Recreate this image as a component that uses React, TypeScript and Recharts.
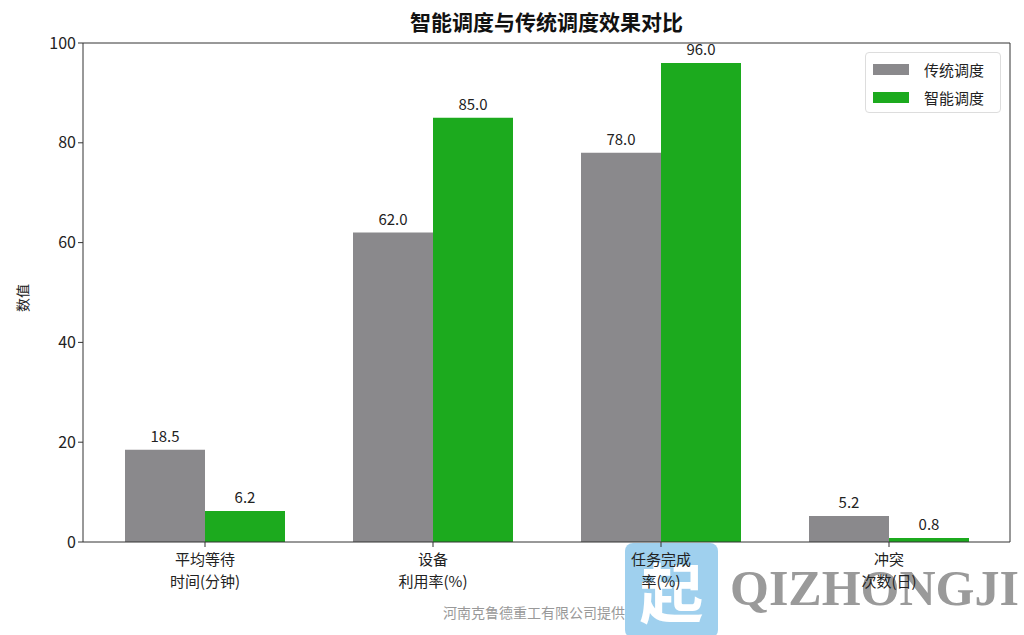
import React from 'react';
import { BarChart, Bar, XAxis, YAxis, LabelList } from 'recharts';

const categories = ['平均等待\n时间(分钟)', '设备\n利用率(%)', '任务完成\n率(%)', '冲突\n次数(日)'];
const traditional = [18.5, 62.0, 78.0, 5.2];
const smart = [6.2, 85.0, 96.0, 0.8];
const yTicks = [0, 20, 40, 60, 80, 100];

const GRAY = '#8a898c';
const GREEN = '#1caa1e';
const FONT = '"Noto Sans CJK SC", "Noto Sans", sans-serif';

const data = categories.map((name, i) => ({ name, traditional: traditional[i], smart: smart[i] }));

const CategoryTick = (props: any) => {
  const { x, y, payload } = props;
  const lines = String(payload.value).split('\n');
  return (
    <g transform={`translate(${x},${y})`}>
      {lines.map((l, i) => (
        <text key={i} x={0} y={16 + i * 22} textAnchor="middle" fontSize={15} fill="#222" fontFamily={FONT}>
          {l}
        </text>
      ))}
    </g>
  );
};

const fmt = (v: any) => Number(v).toFixed(1);

const App: React.FC = () => {
  return (
    <div style={{ position: 'absolute', left: 0, top: 0, width: 1024, height: 635, background: '#fff', fontFamily: FONT, overflow: 'hidden' }}>
      {/* watermark, behind the chart */}
      <div style={{ position: 'absolute', left: 625, top: 543, width: 93, height: 95, borderRadius: 8, background: '#9fd0ee', color: '#fff', fontSize: 64, fontWeight: 700, lineHeight: '92px', textAlign: 'center' }}>
        起
      </div>
      <div style={{ position: 'absolute', left: 730, top: 560, fontFamily: '"Liberation Serif", "DejaVu Serif", serif', fontWeight: 700, fontSize: 50, lineHeight: '56px', color: '#9a9a9a' }}>
        QIZHONGJI
      </div>
      <div style={{ position: 'absolute', left: 443, top: 602, fontSize: 14, color: '#999' }}>
        河南克鲁德重工有限公司提供
      </div>
      <div style={{ position: 'absolute', left: 83, width: 927, top: 6, textAlign: 'center', fontSize: 21, fontWeight: 700, color: '#111' }}>
        智能调度与传统调度效果对比
      </div>
      <div style={{ position: 'absolute', left: 8, top: 288, transform: 'rotate(-90deg)', fontSize: 14, color: '#222' }}>
        数值
      </div>
      <div style={{ position: 'absolute', left: 0, top: 0 }}>
        <BarChart
          width={1024}
          height={635}
          data={data}
          margin={{ top: 42, right: 13, bottom: 33, left: 0 }}
          barGap={0}
          barCategoryGap={34}
        >
          <XAxis
            dataKey="name"
            height={60}
            padding={{ left: 8, right: 7 }}
            stroke="#333"
            tickSize={5}
            tick={<CategoryTick />}
            interval={0}
          />
          <XAxis xAxisId="top" orientation="top" dataKey="name" height={1} tick={false} tickLine={false} stroke="#333" />
          <YAxis
            domain={[0, 100]}
            ticks={yTicks}
            width={83}
            stroke="#333"
            tickSize={5}
            tick={{ fontSize: 16, fill: '#222', fontFamily: FONT }}
          />
          <YAxis yAxisId="right" orientation="right" width={1} tick={false} tickLine={false} stroke="#333" />
          <Bar dataKey="traditional" fill={GRAY} barSize={80} isAnimationActive={false}>
            <LabelList dataKey="traditional" position="top" offset={8} formatter={fmt} fontSize={15} fill="#222" fontFamily={FONT} />
          </Bar>
          <Bar dataKey="smart" fill={GREEN} barSize={80} isAnimationActive={false}>
            <LabelList dataKey="smart" position="top" offset={8} formatter={fmt} fontSize={15} fill="#222" fontFamily={FONT} />
          </Bar>
        </BarChart>
      </div>
      <div style={{ position: 'absolute', left: 865, top: 52, width: 136, height: 61, border: '1px solid #ddd', borderRadius: 4, background: 'rgba(255,255,255,0.8)', boxSizing: 'border-box' }}>
        {[
          { label: '传统调度', color: GRAY },
          { label: '智能调度', color: GREEN },
        ].map((it, i) => (
          <div key={i} style={{ position: 'absolute', left: 7, top: 5 + i * 28, display: 'flex', alignItems: 'center', height: 22 }}>
            <span style={{ display: 'inline-block', width: 36, height: 11, background: it.color }} />
            <span style={{ marginLeft: 15, fontSize: 15, color: '#222' }}>{it.label}</span>
          </div>
        ))}
      </div>
    </div>
  );
};

export default App;
